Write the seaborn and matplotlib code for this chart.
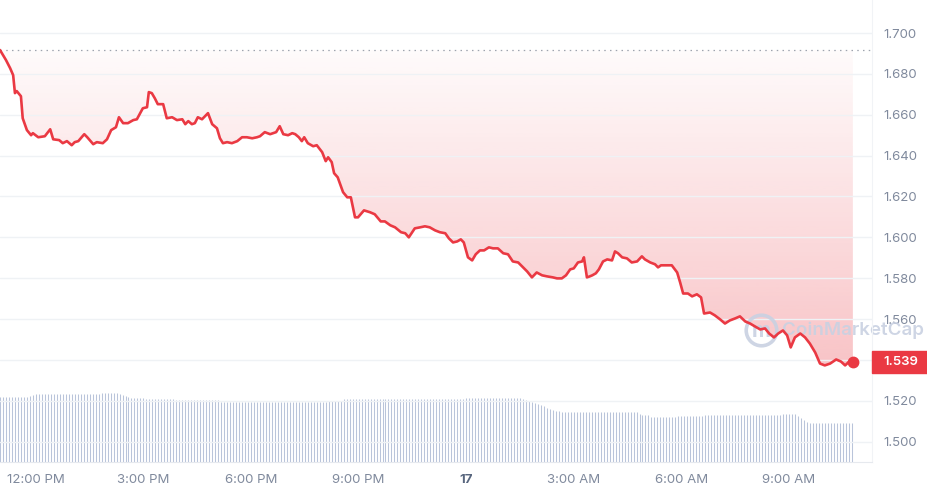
# Price chart, 24h, CoinMarketCap style
import numpy as np
import pandas as pd
import matplotlib
matplotlib.use("Agg")
import matplotlib.pyplot as plt
from matplotlib.colors import LinearSegmentedColormap
from matplotlib.patches import Rectangle
import seaborn as sns

sns.set_style("white")
plt.rcParams['font.family'] = ['Inter', 'DejaVu Sans']

# minutes after 11:00 AM
minutes = [0, 10, 17, 22, 25, 28, 35, 38, 45, 52,
           55, 64, 75, 84, 89, 99, 105, 112, 120, 125,
           131, 141, 146, 156, 162, 172, 179, 186, 194, 199,
           206, 214, 223, 229, 239, 246, 249, 254, 259, 264,
           273, 279, 288, 296, 305, 310, 315, 321, 326, 331,
           338, 343, 348, 355, 363, 368, 373, 380, 388, 397,
           405, 413, 422, 430, 435, 443, 452, 462, 468, 474,
           482, 489, 494, 500, 505, 509, 515, 524, 530, 539,
           545, 549, 555, 559, 565, 574, 581, 587, 594, 599,
           609, 619, 627, 637, 644, 653, 661, 671, 678, 684,
           694, 703, 711, 719, 728, 736, 745, 751, 758, 765,
           771, 776, 783, 790, 796, 803, 810, 818, 825, 833,
           842, 850, 858, 867, 877, 882, 890, 898, 907, 915,
           925, 932, 940, 947, 954, 960, 967, 974, 977, 982,
           987, 991, 997, 1002, 1009, 1016, 1024, 1029, 1034, 1041,
           1049, 1057, 1066, 1074, 1079, 1088, 1096, 1101, 1106, 1113,
           1124, 1133, 1138, 1143, 1151, 1158, 1166, 1173, 1178, 1188,
           1196, 1205, 1213, 1221, 1230, 1238, 1247, 1255, 1263, 1272,
           1280, 1287, 1295, 1302, 1310, 1317, 1323, 1330, 1339, 1347,
           1355, 1364, 1372, 1380, 1389, 1399, 1407, 1414, 1421, 1427]

prices = [1.6917, 1.6868, 1.6828, 1.6794, 1.6706, 1.6716, 1.6691, 1.6583, 1.6525, 1.6500,
          1.6510, 1.6490, 1.6495, 1.6529, 1.6480, 1.6476, 1.6461, 1.6471, 1.6451, 1.6466,
          1.6471, 1.6505, 1.6490, 1.6456, 1.6466, 1.6461, 1.6480, 1.6525, 1.6539, 1.6588,
          1.6559, 1.6559, 1.6574, 1.6578, 1.6632, 1.6637, 1.6711, 1.6706, 1.6681, 1.6652,
          1.6652, 1.6583, 1.6588, 1.6574, 1.6578, 1.6554, 1.6569, 1.6554, 1.6559, 1.6588,
          1.6578, 1.6593, 1.6608, 1.6554, 1.6534, 1.6485, 1.6461, 1.6466, 1.6461, 1.6471,
          1.6490, 1.6490, 1.6485, 1.6490, 1.6495, 1.6515, 1.6505, 1.6515, 1.6544, 1.6505,
          1.6500, 1.6510, 1.6505, 1.6490, 1.6471, 1.6490, 1.6461, 1.6446, 1.6451, 1.6417,
          1.6373, 1.6392, 1.6368, 1.6314, 1.6294, 1.6221, 1.6196, 1.6196, 1.6098, 1.6098,
          1.6132, 1.6123, 1.6113, 1.6078, 1.6078, 1.6059, 1.6049, 1.6025, 1.6020, 1.6000,
          1.6044, 1.6049, 1.6054, 1.6049, 1.6034, 1.6025, 1.6020, 1.5995, 1.5975, 1.5980,
          1.5990, 1.5975, 1.5902, 1.5887, 1.5917, 1.5936, 1.5936, 1.5951, 1.5946, 1.5946,
          1.5922, 1.5917, 1.5882, 1.5877, 1.5848, 1.5833, 1.5804, 1.5828, 1.5814, 1.5809,
          1.5804, 1.5799, 1.5799, 1.5814, 1.5843, 1.5848, 1.5877, 1.5882, 1.5902, 1.5804,
          1.5809, 1.5814, 1.5824, 1.5843, 1.5882, 1.5892, 1.5887, 1.5931, 1.5922, 1.5902,
          1.5897, 1.5877, 1.5882, 1.5907, 1.5892, 1.5877, 1.5868, 1.5853, 1.5863, 1.5863,
          1.5863, 1.5828, 1.5779, 1.5725, 1.5725, 1.5711, 1.5721, 1.5706, 1.5627, 1.5632,
          1.5618, 1.5598, 1.5578, 1.5593, 1.5603, 1.5613, 1.5588, 1.5578, 1.5564, 1.5549,
          1.5554, 1.5529, 1.5510, 1.5529, 1.5544, 1.5520, 1.5461, 1.5510, 1.5529, 1.5510,
          1.5480, 1.5436, 1.5382, 1.5373, 1.5382, 1.5402, 1.5392, 1.5373, 1.5392, 1.5390]

open_price = 1.6917
last_price = 1.539

# 24h volume (millions), one bar every 5 minutes
volume = [6.5, 6.5, 6.5, 6.5, 6.5, 6.5, 6.5, 6.5, 6.5, 6.5, 6.6, 6.7, 6.8, 6.8, 6.8, 6.8, 6.8, 6.8, 6.8, 6.8,
          6.8, 6.8, 6.8, 6.8, 6.8, 6.8, 6.8, 6.8, 6.8, 6.8, 6.8, 6.8, 6.8, 6.8, 6.9, 6.9, 6.9, 6.9, 6.9, 6.9,
          6.8, 6.7, 6.6, 6.5, 6.4, 6.4, 6.4, 6.4, 6.4, 6.3, 6.3, 6.3, 6.3, 6.3, 6.3, 6.3, 6.3, 6.3, 6.3, 6.2,
          6.2, 6.2, 6.2, 6.2, 6.2, 6.2, 6.2, 6.2, 6.2, 6.2, 6.2, 6.2, 6.2, 6.2, 6.0, 6.0, 6.0, 6.0, 6.0, 6.0,
          6.0, 6.0, 6.0, 6.0, 6.0, 6.0, 6.0, 6.0, 6.0, 6.0, 6.0, 6.0, 6.0, 6.0, 6.0, 6.0, 6.0, 6.0, 6.0, 6.0,
          6.0, 6.0, 6.0, 6.0, 6.0, 6.0, 6.0, 6.0, 6.0, 6.0, 6.1, 6.1, 6.1, 6.1, 6.1, 6.3, 6.3, 6.3, 6.3, 6.3,
          6.3, 6.3, 6.3, 6.3, 6.3, 6.3, 6.3, 6.3, 6.3, 6.3, 6.3, 6.3, 6.3, 6.3, 6.3, 6.3, 6.3, 6.3, 6.3, 6.3,
          6.3, 6.3, 6.3, 6.3, 6.3, 6.3, 6.3, 6.3, 6.3, 6.3, 6.3, 6.3, 6.3, 6.3, 6.3, 6.3, 6.4, 6.4, 6.4, 6.4,
          6.4, 6.4, 6.4, 6.4, 6.4, 6.4, 6.4, 6.4, 6.4, 6.4, 6.4, 6.4, 6.4, 6.4, 6.4, 6.3, 6.2, 6.1, 6.0, 5.9,
          5.8, 5.7, 5.6, 5.4, 5.3, 5.2, 5.1, 5.1, 5.0, 5.0, 5.0, 5.0, 5.0, 5.0, 5.0, 5.0, 5.0, 5.0, 5.0, 5.0,
          5.0, 5.0, 5.0, 5.0, 5.0, 5.0, 5.0, 5.0, 5.0, 5.0, 5.0, 5.0, 5.0, 5.0, 4.8, 4.7, 4.7, 4.7, 4.5, 4.5,
          4.5, 4.5, 4.5, 4.5, 4.5, 4.5, 4.5, 4.6, 4.6, 4.6, 4.6, 4.6, 4.6, 4.6, 4.6, 4.6, 4.7, 4.7, 4.7, 4.7,
          4.7, 4.7, 4.7, 4.7, 4.7, 4.7, 4.7, 4.7, 4.7, 4.7, 4.7, 4.7, 4.7, 4.7, 4.7, 4.7, 4.7, 4.7, 4.7, 4.7,
          4.7, 4.7, 4.8, 4.8, 4.8, 4.8, 4.8, 4.6, 4.4, 4.2, 4.0, 3.9, 3.9, 3.9, 3.9, 3.9, 3.9, 3.9, 3.9, 3.9,
          3.9, 3.9, 3.9, 3.9, 3.9, 3.9]

tick_hours = [12, 15, 18, 21, 24, 27, 30, 33]
tick_labels = ['12:00 PM', '3:00 PM', '6:00 PM', '9:00 PM', '17', '3:00 AM', '6:00 AM', '9:00 AM']
price_ticks = [1.500, 1.520, 1.540, 1.560, 1.580, 1.600, 1.620, 1.640, 1.660, 1.680, 1.700]

red = '#ea3943'
grey = '#808a9d'

df = pd.DataFrame({'hour': 11 + np.array(minutes) / 60, 'price': prices})
vol_hours = 11 + np.arange(len(volume)) * 5 / 60

fig = plt.figure(figsize=(9.28, 4.95), dpi=100)
ax = fig.add_axes([0, 33 / 495, 872 / 928, 462 / 495])

# volume bars on a hidden twin axis, behind the price
ax2 = ax.twinx()
ax2.vlines(vol_hours, 0, volume, color='#b9c4da', lw=0.75)
ax2.set_ylim(0, 46.2)
ax2.set_yticks([])
for s in ax2.spines.values():
    s.set_visible(False)
ax.set_zorder(ax2.get_zorder() + 1)
ax.patch.set_visible(False)

# gradient fill between the open price and the line
fill = ax.fill_between(df['hour'], df['price'], open_price, color='none', lw=0)
cmap = LinearSegmentedColormap.from_list(
    'fade', [(234 / 255, 57 / 255, 67 / 255, 0.30), (234 / 255, 57 / 255, 67 / 255, 0.02)])
grad = np.linspace(0, 1, 256).reshape(-1, 1)
img = ax.imshow(grad, cmap=cmap, aspect='auto', origin='lower', zorder=1,
                extent=[df['hour'].min(), df['hour'].max(), min(prices), open_price])
img.set_clip_path(fill.get_paths()[0], transform=ax.transData)

ax.axhline(open_price, color='#9ea4ae', lw=0.9, ls=(0, (1.2, 3.4)), zorder=1.2)

# watermark
ax.plot([0.873], [0.286], marker='o', ms=22, mfc='none', mec='#c9d1e2', mew=2.6,
        transform=ax.transAxes, zorder=1.6, alpha=0.9)
ax.text(0.873, 0.283, 'm', transform=ax.transAxes, ha='center', va='center',
        fontsize=15, fontweight='bold', color='#c9d1e2', zorder=1.6, alpha=0.9)
ax.text(0.897, 0.286, 'CoinMarketCap', transform=ax.transAxes, ha='left', va='center',
        fontsize=13.5, fontweight='semibold', color='#c9d1e2', zorder=1.6, alpha=0.9,
        clip_on=False)

sns.lineplot(data=df, x='hour', y='price', color=red, lw=1.9, ax=ax, zorder=3)
ax.plot(df['hour'].iloc[-1], df['price'].iloc[-1], 'o', ms=7.5, color=red, zorder=4)

ax.set_xlim(11, 11 + 1459 / 60)
ax.set_ylim(1.490, 1.7162)
ax.set_xlabel('')
ax.set_ylabel('')

ax.set_axisbelow('line')
ax.grid(axis='y', color='#eff2f5', lw=1.0)
ax.grid(axis='x', visible=False)

ax.set_xticks(tick_hours)
ax.set_xticklabels(tick_labels)
ax.tick_params(axis='x', length=3.5, width=0.8, color='#d6dbe3', pad=5,
               labelsize=9.5, labelcolor=grey)
for lab in ax.get_xticklabels():
    if lab.get_text() == '17':
        lab.set_fontweight('bold')
        lab.set_color('#58667e')

ax.yaxis.tick_right()
ax.set_yticks(price_ticks)
ax.set_yticklabels(['' if abs(v - 1.54) < 1e-9 else f'{v:.3f}' for v in price_ticks])
ax.tick_params(axis='y', length=0, pad=8, labelsize=9.5, labelcolor=grey)

for side in ['top', 'left']:
    ax.spines[side].set_visible(False)
ax.spines['bottom'].set_color('#e6e9ee')
ax.spines['right'].set_color('#f1f3f6')

# current price tag
ax.add_patch(Rectangle((1.0, last_price - 0.0054), 56 / 872, 0.0108,
                       transform=ax.get_yaxis_transform(), color=red, clip_on=False, zorder=5))
ax.text(1.0126, last_price, f'{last_price:.3f}', transform=ax.get_yaxis_transform(),
        ha='left', va='center', color='white', fontsize=9.5, fontweight='semibold', zorder=6)

plt.savefig('out.png', dpi=100)
